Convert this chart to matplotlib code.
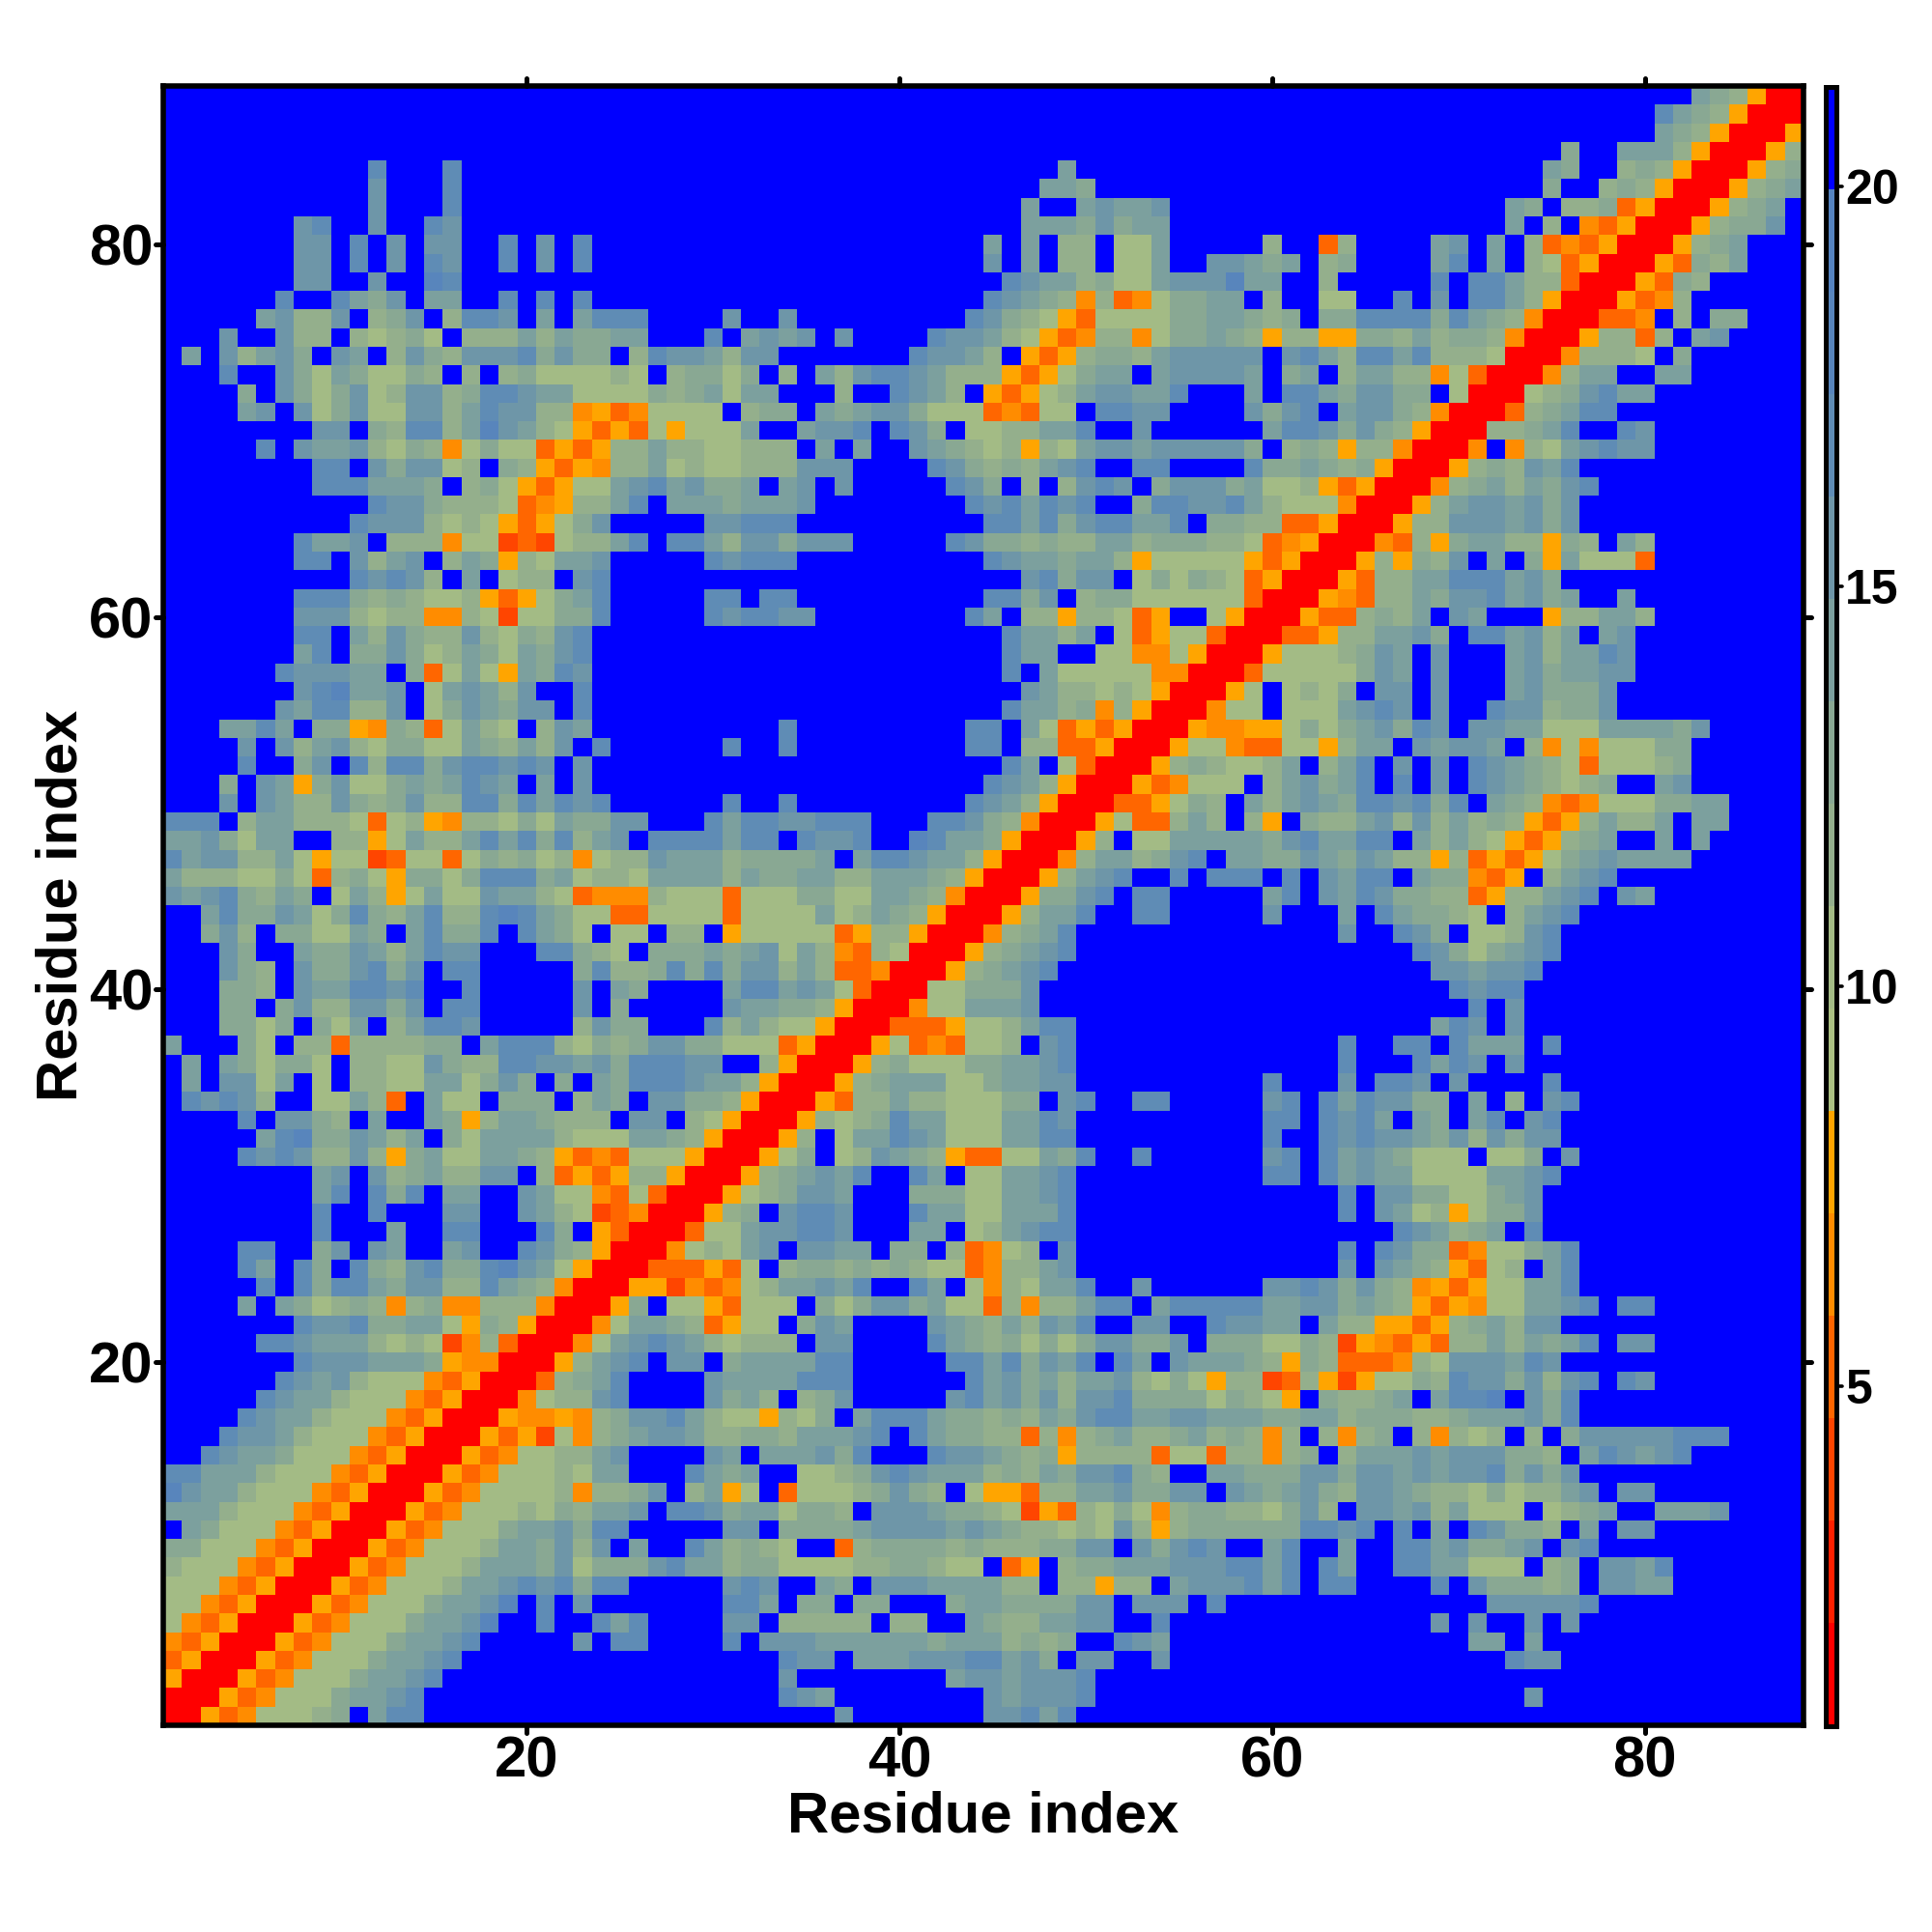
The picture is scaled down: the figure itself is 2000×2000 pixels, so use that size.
import numpy as np
import matplotlib
matplotlib.use("Agg")
import matplotlib.pyplot as plt
from matplotlib.colors import ListedColormap, BoundaryNorm
from matplotlib.markers import MarkerStyle, TICKDOWN, TICKUP, TICKLEFT, TICKRIGHT

plt.rcParams['font.family'] = ['Liberation Sans', 'DejaVu Sans']
plt.rcParams['font.weight'] = 'bold'

# Binned distance levels per residue pair, read cell by cell (row for index 88 first).
# Symbols: 0-e are colour bins from small to large, '.' is the top bin.
COLS_1_30 = [
"","","","",
"...........c...c",
"...........b...c",
"...........b...c",
".......bc..b..cb",
".......bb.c.b.bb..c.b.c",
".......bb.c.b.cb..c.b.c",
".......bb..b..dc",
"......c..ca9b.aa..c.c.c",
".....ab88b.89b.8ccb.a.accc",
"...b..b88.87897.888a8a99aa...c",
".a.b8ab9.ba.8b98bbbc9b99.8cbba",
"...c..b97a97798.8.89777787.899",
"....9.b979b78bb89ccbaa7777989a",
"....ab.b79b77bb8acbb8845347777",
"........bb.98cc8adba8753537577",
".....c.baab879847977353588a887",
"........cc.b9bb78.98535488a787",
"........cccaaa9.89753577abcab9",
"...........cbb9888734588ac.aaa",
"..........cbbb878753579b.....b",
".......caab.888477232788ac.cca",
".......cc.b8ab.8a9587aab.....c",
"..........cbcb8.a.788.bc",
".......ccc989877853579ac.....c",
".......bbb8788448727799c.....c",
".......cc.a8b988b8798bc",
".......ac.99b978a97a9bc",
"......cbbbaa.937a75a9cb",
".......bcdaab.7aba8b..c",
"......bacc88b.79ba9bb.c",
"...aaca.99549837a87.8ba",
"....b.b8ab879977a98a8b.c",
"....c..9b.c8cc9bccbcb.b",
"...9.ba59b779a9acba.a.b",
"...b.ba88b989b88cc9cacbc",
"ccc.8aa88873785488797a99bb...c",
"aab97aa..8857a88acac9c8ab.cccc",
"cabb88a7577237737989784788baaa",
"a8887797389759979ccc9a7887aaaa",
"babc98a9.7a857a77baa8734448777",
"..ac99ba79c98ac88cdca977337777",
"..9b8.9977a9.ac99c.ca97.77.88.",
"...b9..a99ba8acbb...cc987.999a",
"...b98.b99bc9b.cc.....9c889c9c",
"...998.baaccbc..c.....b.a9",
"...99.9b88bb9b.cc.....b.9",
"...9979.97a.8accb.....8b99...c",
"a...97.883888899.accc87989bb99",
".a.a97997.8877b988ccbbab9cccbb",
".a.bb7a.7.8877aa79b9.9.a9cccba",
".cbcb8..77a83.a77.999.8a9.bb99",
"....c.bb98.a..a958aa9888.bb.87",
".....acd99ba8a.97aaaa8777aa985",
"....cbcb88b859a77aa98534377750",
"........ab.b89a88bb.8353588500",
"........ac.c9c.aa..ba774373000",
"........c..c...bb..ba872340005",
"........c...a..cc...c9.5300037",
"....cc..9b.ba..ab..cb985000478",
"....ca.c9.c98bc99cdba750003335",
".....c.c9cca9bb88ca98400055243",
"....a.a9789848944888400059.775",
".......cbbc99aa7598500047aa983",
".....ccbaaa8787248300047abcba8",
".......cbbbaaa954400058abc.bb.",
"......cbab8777435000389ac....b",
".....cbaa87774350004788bc....b",
"....cbaa87774350005445489bbca8",
"...cbba877743500053527489abba8",
"..cbaa97774350005347788ab....b",
"ccaaa877743500053477787aa...ca",
"dbaa8777435000534777784889b.8a",
"aaa87774350005347778798aab.ccb",
".a97774350005347779aab9cc",
"997774350005347778aa9b8b.a..ca",
"87774350005347778aaa9b7999bcaa",
"7774350005347778aabcbc9cc",
"774350005347779aabd.c.b",
"74350005347779aabd..c..cac",
"4350005347779aabc.....b.cc",
"350005347779aabc",
"50005347779aabc",
"0005347779aabc",
"0053477789.acc",
]

COLS_31_58 = [
"","","","",
"..................a",
".................aa9",
"................a..abaab",
"................aaa9b9aa",
"..............a.a.88.77a",
"..............b.a.88.77a..bb",
"...............cbaa8977abbbd",
"..............cba984834799aa",
"b..b.........cb98753777799aa",
".abab.b....cbba87534884799a9",
"8bb.......cbba8.5358998abbbb",
"79.8.a8bccba88853579aa.abbbb",
"7aa...8..cba8.53578abbaac...",
".899.a9abb977734377.ccbb....",
"7a..abbc.cb9.7788aac..b",
"7888.a.a..ba9878587abbabbbbb",
"7888bbb....cb9898abc..cc....",
"9a.ab.b.....cb9.8.8bcb.9bbb9",
"9aaab........cbcacbc..9ccbbc",
"bccc..........ccac9bccaac.99",
"8bb9bbb.....cb998988aa899988",
"bccc..........cbaa9aa8577777",
"................bc9bb.797987",
"c.cc..........cc9b.899777777",
"bccbb........ca.88588735..75",
"...............caa8a.7357730",
"...............caa..77447500",
"...............c.a7777744000",
"................ba8878750005",
"...............caa8948500047",
"...c.........cc.a73535000544",
"c..c.........cc.883350005774",
"...............ca.7300058987",
"..............cba85000534777",
"c..c.........cba85000335798.",
"accbbccc...ccb98400057338a8.",
"acc.cbbc..dcaa9500058.77aaaa",
"89999a.accbaa8500048aa89bc.a",
"8a99aa88aaa98500058abc..c.cc",
"37779977aa984000599bc.cc",
"37777a78a98500058aac..cc",
"57777735885000489ac",
"9ab7a84387000589abc",
"9bb8a8334000589abc",
"accaba7300077999b",
"baa9985000477aaab",
"8a87750003335778acc",
"7773500057343778.bc",
"..8500058977799aabc",
"a85000589aaa779aabb",
"850005388a8877799.bc..cc",
"500058789caa777aacb",
"00058.7aacba777aacc",
"00579.78ba9853377a9c..c",
"0589abac..ca.77aabc",
"5789bba...99977aabc",
"89.bccb...caa77aaac",
"7abbccb...aa.78abcc",
"7ab.bbaa.99.83478.b",
"37.89989898773488ab",
"478aabac..ca.7487aac..b",
"3777.979bb9a7738488acc.acccc",
"577.9ba....ba98a8bac..bb..cb",
"7888.bb....ca9897979bb99b.99",
"9aaaacc.....ccac9bac.ca.baaa",
"aaaaccc......cab9a8aab879758",
"9a8.89b.....bcab9b8bbc999979",
"775879.accca99898a9bccaabbaa",
"8998aaabc.ca998838489a889a89",
"a.aaab9c...cbba9895888837738",
"9a..7789bcbaaa898a9bbc98..aa",
"57.377789b98.755388aab99bb.b",
"9aa7998.bbba9987253879748998",
"bb.9999abbbbaba988787b858999",
"8987..3899998988899bb.b9bcb.",
"89977778899877.35.899aaabbbc",
"bcb..a9.bbbaaaa88.88588.abbb",
"cca.99.99...9aa9999bb.bbb.c",
"bb.88888.88..a988aabb..c",
"c.bbbaaaaaa9aaa8989..cba",
"...cbb.aaabbbccab9.bb..b",
"...b........abbabbbc",
"...cba........babbbc",
"......b.......bbcac",
]

COLS_59_88 = [
"........................a98500",
"......................ca985000",
"......................a9850005",
".................9..aaa8500058",
"................a9..8985000589",
"................9..8985000589a",
"..............a9.88935000589a.",
"..............a.8.4350005899b.",
".8..38....ab.a.83435000589a...",
"a9a.89....ac.a.87350005398a...",
"aa..8.....c.cca8830005398",
".8..77..c.b.cca850005348",
"989.99cccc9ca984000334.8.99",
"858855998a8998400058838.ab",
"b.bca8ccac888700048887.9",
"a.9a.8aa8847300048aa..aa",
"a.cca9bb99.7000789bcaa",
"b9bc.abb984000389acc",
".accb9b985000889ac..cb",
"9.89858840004.487abcbb",
"c99a98950005898bac",
"a778535000489a8a9bc",
"a8777400058abbab9b",
"88335000588bbbab9b",
"734500043859aa88598.a8",
"53500058598b.a.95a7773",
"350005388aacccab9",
"300054388a9bbcab9a..a",
"000533898a.ba...588aa8",
"0033588aab9.ccab8a.ab",
"0577789ba.b...ab8aacb",
"3777779ba.b...ab9aabb",
"7.7879.bb.b...ab999b",
"7.777abcb.b..cbb899b",
"557979ab9cb.bbaa777aaaa9b",
"337758aa.babba.847477799",
"78a.8ac.b.b.cba987377789",
".8ab9ac.c.b.cba98789..ab",
"a8aba9ccbc9c.a9843477799aa",
"85.988ab8b8a8985358a88a.aa",
"a9bcaacc.a8a8753589a..a.a",
"a99ba9ba8858353579abaaaa",
"c.c.bacc.a99435.8abc",
".ac.bacb99883588abc.ba",
".b...a.ca9987.8abc",
".....b..cb9.778bc",
".........cb979abc",
"..........bbabbc",
"...........cbcc",
"............c.b",
"..........acb.b",
".....c..cc.caaa.c",
".....c...cacb.b",
".c...b.ccb.b....c",
".bc.cacbb99.a.8.bc",
".cc.cbca.a9.ac.bc",
".c..cbcbba9b8b9bb",
".bc.caba9777.779.b",
".cc.cabaa7777aabc",
".....c.bb99779ab",
".....c.ba785799b",
"........cba89a.c",
".....c.cb9934779ac",
".....b.ba985378.ac",
".bbcb9b98453577aac",
"caabb9a98535477aabc.cc",
"baa.a88553589a8bb",
"9779825435388a8a9ac.bb",
"98598333487bbbacb",
"82385257798cbb9b8bc.cb",
"875.9889a.accd.b9c",
"a99aa8999889aaab9c",
"848.8489.84878.8.9bbbbbccc",
"8489.8aaababbb998.acbabc",
"999bb9bbababbc9b9b",
"a9ab98bba98879788ab.bb",
"879b8.bbab8a777.789a..aaab",
"999ccbc.c.a.cb998.a.bb",
".ac..a..ccab99ab.bc",
"cac.ca..ccaa777.89.bbac",
"cac.cc....c.b99989.bbaa",
".............bbbbbc",
"..........b.b..b.b",
"............aa.a",
"..............cbb",
"",
"...............b",
"",
]

BIN_SYMBOLS = "0123456789abcde."
BIN_COLOURS = ["#FF0000", "#FF2000", "#FF4500", "#FF6600", "#FF8C00", "#FFA500",
               "#AABF82", "#A3BB85", "#94AF8C", "#89A893", "#7CA09E", "#6E96A8",
               "#5F8CB5", "#5885BC", "#5583BF", "#0000FF"]
VMIN, VMAX = 0.75, 21.25
XTICKS = [20, 40, 60, 80]
CBAR_TICKS = [5, 10, 15, 20]
LABEL = "Residue index"

edges = np.linspace(VMIN, VMAX, len(BIN_COLOURS) + 1)
mids = 0.5 * (edges[:-1] + edges[1:])

rows = []
for a, b, c in zip(COLS_1_30, COLS_31_58, COLS_59_88):
    s = a.ljust(30, '.')[:30] + b.ljust(28, '.')[:28] + c.ljust(30, '.')[:30]
    rows.append([mids[BIN_SYMBOLS.index(ch)] for ch in s])
matrix = np.array(rows)

cmap = ListedColormap(BIN_COLOURS)
norm = BoundaryNorm(edges, cmap.N)

W = H = 2000
fig = plt.figure(figsize=(20, 20), dpi=100, facecolor='white')
def box(x0, x1, y0, y1):
    return [x0 / W, 1 - y1 / H, (x1 - x0) / W, (y1 - y0) / H]

def round_ticks(axis, first, second):
    for tick in axis.get_major_ticks():
        tick.tick1line.set_marker(MarkerStyle(first, capstyle='round'))
        tick.tick2line.set_marker(MarkerStyle(second, capstyle='round'))

ax = fig.add_axes(box(169, 1866.5, 89, 1786))
im = ax.imshow(matrix, origin='upper', extent=(0.5, 88.5, 0.5, 88.5), cmap=cmap, norm=norm,
               interpolation='nearest', aspect='auto')
ax.set_xticks(XTICKS)
ax.set_yticks(XTICKS)
ax.tick_params(axis='both', which='major', direction='out', top=True, right=True,
               length=5.5, width=3.6, labelsize=43, pad=2.2)
round_ticks(ax.xaxis, TICKDOWN, TICKUP)
round_ticks(ax.yaxis, TICKLEFT, TICKRIGHT)
for lab in ax.get_xticklabels() + ax.get_yticklabels():
    lab.set_fontweight('bold')
for sp in ax.spines.values():
    sp.set_linewidth(4.0)
ax.set_xlabel(LABEL, fontsize=43, fontweight='bold')
ax.set_ylabel(LABEL, fontsize=43, fontweight='bold')
ax.xaxis.set_label_coords(0.5, -(1881 - 1786) / (1786 - 89), transform=ax.transAxes)
ax.xaxis.label.set_va('center')
ax.yaxis.set_label_coords(-(169 - 64) / (1866.5 - 169), 0.5, transform=ax.transAxes)
ax.yaxis.label.set_va('center')

cax = fig.add_axes(box(1889.5, 1901, 89.5, 1786.5))
cb = fig.colorbar(im, cax=cax, ticks=CBAR_TICKS, spacing='proportional', drawedges=False)
cb.outline.set_linewidth(3.6)
cax.minorticks_off()
cax.tick_params(axis='y', which='major', direction='out', length=4.5, width=2.6, labelsize=36, pad=2)
round_ticks(cax.yaxis, TICKLEFT, TICKRIGHT)
for lab in cax.get_yticklabels():
    lab.set_fontweight('bold')

fig.savefig("out.png", dpi=100, facecolor='white')
